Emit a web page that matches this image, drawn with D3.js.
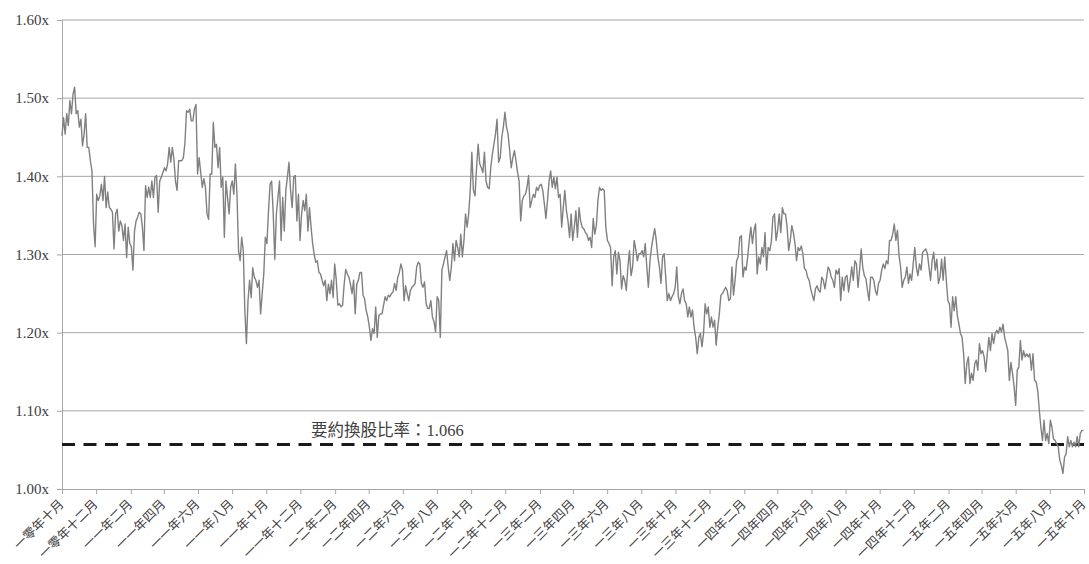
<!DOCTYPE html>
<html>
<head>
<meta charset="utf-8">
<script src="https://d3js.org/d3.v7.min.js"></script>
<style>
  body { margin: 0; background: #ffffff; }
  text { font-family: "Liberation Serif", "Noto Sans CJK TC", serif; fill: #404040; }
</style>
</head>
<body>
<svg id="chart"></svg>
<script>
// y axis ticks (ratio, shown as "1.00x")
const yTicks = [1.0, 1.1, 1.2, 1.3, 1.4, 1.5, 1.6];

// bi-monthly tick labels, Oct 2010 .. Oct 2015
const tickLabels = [
  "一零年十月", "一零年十二月",
  "一一年二月", "一一年四月", "一一年六月", "一一年八月", "一一年十月", "一一年十二月",
  "一二年二月", "一二年四月", "一二年六月", "一二年八月", "一二年十月", "一二年十二月",
  "一三年二月", "一三年四月", "一三年六月", "一三年八月", "一三年十月", "一三年十二月",
  "一四年二月", "一四年四月", "一四年六月", "一四年八月", "一四年十月", "一四年十二月",
  "一五年二月", "一五年四月", "一五年六月", "一五年八月", "一五年十月"
];

const axisStart = "2010-10-01", axisEnd = "2015-10-01";
const firstDate = "2010-10-01", lastDate = "2015-09-30";

// offer ratio annotation; the dashed line sits a touch under the label value in the source
const offerLabel = "要約換股比率：1.066";
const offerLabelDate = "2011-12-20";
const offerLine = 1.057;

// price ratio readings, evenly spaced in time (about every 3 days)
const ratiosOct10ToMar12 = [
  1.452, 1.475, 1.454, 1.48, 1.465, 1.497, 1.48, 1.505, 1.514, 1.48, 1.484, 1.463, 1.473, 1.439, 1.454, 1.48,
  1.437, 1.437, 1.42, 1.407, 1.339, 1.31, 1.377, 1.369, 1.375, 1.39, 1.369, 1.40, 1.36, 1.38, 1.36, 1.358,
  1.354, 1.307, 1.352, 1.358, 1.33, 1.343, 1.337, 1.318, 1.339, 1.296, 1.335, 1.314, 1.31, 1.28, 1.33, 1.343,
  1.348, 1.354, 1.352, 1.335, 1.305, 1.388, 1.373, 1.386, 1.373, 1.394, 1.373, 1.399, 1.401, 1.354, 1.394, 1.399,
  1.405, 1.411, 1.407, 1.416, 1.437, 1.418, 1.437, 1.422, 1.394, 1.382, 1.42, 1.42, 1.42, 1.424, 1.443, 1.484,
  1.482, 1.486, 1.471, 1.471, 1.486, 1.492, 1.403, 1.424, 1.405, 1.386, 1.397, 1.386, 1.352, 1.345, 1.403, 1.403,
  1.469, 1.437, 1.441, 1.411, 1.437, 1.386, 1.399, 1.322, 1.394, 1.373, 1.352, 1.386, 1.394, 1.377, 1.416, 1.377,
  1.305, 1.292, 1.322, 1.305, 1.228, 1.186, 1.241, 1.267, 1.245, 1.283, 1.271, 1.267, 1.258, 1.267, 1.224, 1.25,
  1.275, 1.322, 1.314, 1.356, 1.39, 1.394, 1.352, 1.294, 1.352, 1.373, 1.394, 1.318, 1.373, 1.33, 1.382, 1.399,
  1.418, 1.382, 1.36, 1.399, 1.401, 1.343, 1.377, 1.318, 1.352, 1.369, 1.356, 1.377, 1.33, 1.36, 1.335, 1.314,
  1.30, 1.29, 1.292, 1.277, 1.275, 1.267, 1.26, 1.267, 1.241, 1.262, 1.25, 1.267, 1.245, 1.288, 1.267, 1.235,
  1.237, 1.233, 1.235, 1.262, 1.281, 1.275, 1.271, 1.262, 1.25, 1.267, 1.224, 1.262, 1.267, 1.277, 1.277, 1.248,
  1.243, 1.228, 1.22, 1.207, 1.19, 1.205, 1.199, 1.233, 1.194
];

const ratiosMar12ToNov13 = [
  1.222, 1.224, 1.224, 1.235, 1.246, 1.241, 1.248, 1.246, 1.25, 1.252, 1.263, 1.254, 1.271, 1.277, 1.288, 1.28,
  1.241, 1.26, 1.25, 1.241, 1.254, 1.258, 1.26, 1.263, 1.284, 1.29, 1.288, 1.263, 1.258, 1.265, 1.237, 1.231,
  1.231, 1.241, 1.22, 1.214, 1.201, 1.246, 1.241, 1.194, 1.28, 1.288, 1.297, 1.305, 1.284, 1.267, 1.284, 1.314,
  1.292, 1.318, 1.309, 1.297, 1.326, 1.297, 1.318, 1.352, 1.335, 1.352, 1.382, 1.431, 1.382, 1.375, 1.411, 1.441,
  1.416, 1.411, 1.405, 1.431, 1.394, 1.386, 1.384, 1.411, 1.428, 1.441, 1.454, 1.473, 1.418, 1.424, 1.45, 1.463,
  1.482, 1.463, 1.454, 1.433, 1.411, 1.424, 1.433, 1.42, 1.405, 1.394, 1.343, 1.369, 1.375, 1.377, 1.386, 1.401,
  1.36, 1.369, 1.377, 1.373, 1.386, 1.382, 1.388, 1.39, 1.382, 1.365, 1.346, 1.369, 1.394, 1.407, 1.386, 1.399,
  1.384, 1.399, 1.373, 1.377, 1.335, 1.36, 1.382, 1.356, 1.343, 1.322, 1.352, 1.318, 1.335, 1.356, 1.322, 1.36,
  1.343, 1.335, 1.333, 1.328, 1.326, 1.318, 1.322, 1.309, 1.346, 1.326, 1.337, 1.369, 1.386, 1.382, 1.384, 1.382,
  1.335, 1.318, 1.314, 1.309, 1.26, 1.297, 1.305, 1.275, 1.303, 1.292, 1.256, 1.273, 1.267, 1.254, 1.284, 1.305,
  1.273, 1.284, 1.318, 1.307, 1.292, 1.301, 1.301, 1.305, 1.297, 1.314, 1.284, 1.258, 1.292, 1.309, 1.322, 1.333,
  1.318, 1.297, 1.284, 1.263, 1.297, 1.301, 1.271, 1.241, 1.25, 1.241, 1.246, 1.25, 1.258, 1.284, 1.246, 1.237,
  1.25, 1.256, 1.241, 1.237, 1.22, 1.233, 1.22, 1.229, 1.207, 1.194, 1.173, 1.194, 1.199, 1.182, 1.199, 1.237,
  1.224, 1.233, 1.207
];

const ratiosNov13ToSep15 = [
  1.22, 1.207, 1.216, 1.184, 1.207, 1.224, 1.248, 1.25, 1.254, 1.258, 1.254, 1.241, 1.243, 1.284, 1.248, 1.267,
  1.292, 1.297, 1.322, 1.324, 1.271, 1.284, 1.28, 1.297, 1.318, 1.335, 1.314, 1.331, 1.339, 1.275, 1.297, 1.288,
  1.309, 1.297, 1.328, 1.28, 1.309, 1.305, 1.316, 1.348, 1.352, 1.318, 1.331, 1.352, 1.328, 1.36, 1.352, 1.352,
  1.335, 1.305, 1.318, 1.337, 1.328, 1.314, 1.292, 1.309, 1.305, 1.311, 1.301, 1.282, 1.28, 1.271, 1.267, 1.256,
  1.248, 1.241, 1.256, 1.26, 1.254, 1.252, 1.271, 1.267, 1.256, 1.269, 1.284, 1.28, 1.271, 1.267, 1.258, 1.28,
  1.275, 1.282, 1.241, 1.271, 1.254, 1.271, 1.273, 1.252, 1.267, 1.284, 1.267, 1.292, 1.288, 1.258, 1.28, 1.307,
  1.284, 1.273, 1.269, 1.254, 1.241, 1.271, 1.271, 1.267, 1.254, 1.248, 1.263, 1.267, 1.28, 1.288, 1.282, 1.292,
  1.288, 1.318, 1.318, 1.326, 1.339, 1.318, 1.331, 1.299, 1.284, 1.258, 1.267, 1.271, 1.284, 1.263, 1.275, 1.267,
  1.288, 1.309, 1.284, 1.273, 1.288, 1.28, 1.303, 1.305, 1.307, 1.301, 1.284, 1.267, 1.292, 1.303, 1.28, 1.294,
  1.263, 1.271, 1.294, 1.267, 1.297, 1.267, 1.241, 1.237, 1.207, 1.246, 1.228, 1.246, 1.222, 1.211, 1.199, 1.194,
  1.173, 1.135, 1.16, 1.169, 1.135, 1.148, 1.139, 1.16, 1.165, 1.152, 1.186, 1.173, 1.177, 1.169, 1.15, 1.173,
  1.194, 1.177, 1.199, 1.186, 1.199, 1.203, 1.199, 1.207, 1.201, 1.211, 1.194, 1.186, 1.177, 1.139, 1.162, 1.148,
  1.131, 1.107, 1.152, 1.156, 1.19, 1.165, 1.177, 1.169, 1.173, 1.169, 1.173, 1.152, 1.173, 1.139, 1.137, 1.126,
  1.101, 1.079, 1.062, 1.088, 1.062, 1.071, 1.058, 1.088, 1.079, 1.064, 1.062, 1.058, 1.054, 1.037, 1.03, 1.02,
  1.041, 1.045, 1.067, 1.054, 1.062, 1.054, 1.06, 1.054, 1.067, 1.054, 1.071, 1.075, 1.075
];

let width = 1089,
    height = 564

let margin = { top: 20, right: 5, bottom: 75, left: 62 }

let svg = d3.select("#chart")
    .attr("width", width)
    .attr("height", height)

let parse = d3.utcParse("%Y-%m-%d")

let ratios = ratiosOct10ToMar12.concat(ratiosMar12ToNov13, ratiosNov13ToSep15)

// spread the readings evenly between first and last date
let t0 = parse(firstDate), t1 = parse(lastDate)
let step = (t1 - t0) / (ratios.length - 1)
let data = ratios.map((v, i) => ({ date: new Date(+t0 + i * step), value: v }))

let x = d3.scaleUtc()
    .domain([parse(axisStart), parse(axisEnd)])
    .range([margin.left, width - margin.right])

let y = d3.scaleLinear()
    .domain([1.0, 1.6])
    .range([height - margin.bottom, margin.top])

let tickDates = d3.utcMonth.range(parse(axisStart), d3.utcDay.offset(parse(axisEnd), 1), 2)

// horizontal gridlines
svg.append("g")
    .selectAll("line")
    .data(yTicks.filter(d => d > 1.0))
    .enter()
    .append("line")
    .attr("x1", margin.left)
    .attr("x2", width - margin.right)
    .attr("y1", d => y(d))
    .attr("y2", d => y(d))
    .attr("stroke", "#a6a6a6")
    .attr("stroke-width", 1)

// y axis
let yAxis = svg.append("g")
    .attr("transform", "translate(" + margin.left + ",0)")
    .call(d3.axisLeft(y).tickValues(yTicks).tickSize(5).tickPadding(8).tickFormat(d => d.toFixed(2) + "x"))
yAxis.select(".domain").attr("stroke", "#a6a6a6")
yAxis.selectAll(".tick line").attr("stroke", "#a6a6a6")
yAxis.selectAll("text").style("font-size", "15px").attr("fill", "#404040")

// x axis
let xAxis = svg.append("g")
    .attr("transform", "translate(0," + (height - margin.bottom) + ")")
    .call(d3.axisBottom(x).tickValues(tickDates).tickSize(5).tickSizeOuter(0).tickFormat((d, i) => tickLabels[i]))
xAxis.select(".domain").attr("stroke", "#a6a6a6")
xAxis.selectAll(".tick line").attr("stroke", "#a6a6a6")
xAxis.selectAll("text")
    .attr("x", 0)
    .attr("y", 0)
    .attr("dy", 0)
    .attr("transform", "translate(2,16) rotate(-45)")
    .style("text-anchor", "end")
    .style("font-size", "12.8px")
    .attr("fill", "#404040")

// offer ratio dashed line
svg.append("line")
    .attr("x1", margin.left)
    .attr("x2", width - margin.right)
    .attr("y1", y(offerLine))
    .attr("y2", y(offerLine))
    .attr("stroke", "#1a1a1a")
    .attr("stroke-width", 3)
    .attr("stroke-dasharray", "13,8.5")

svg.append("text")
    .attr("x", x(parse(offerLabelDate)))
    .attr("y", y(offerLine) - 8)
    .style("font-size", "16.5px")
    .attr("fill", "#262626")
    .text(offerLabel)

// the ratio series
let line = d3.line()
    .x(d => x(d.date))
    .y(d => y(d.value))

svg.append("path")
    .datum(data)
    .attr("d", line)
    .attr("fill", "none")
    .attr("stroke", "#808080")
    .attr("stroke-width", 1.4)
    .attr("stroke-linejoin", "round")
</script>
</body>
</html>
